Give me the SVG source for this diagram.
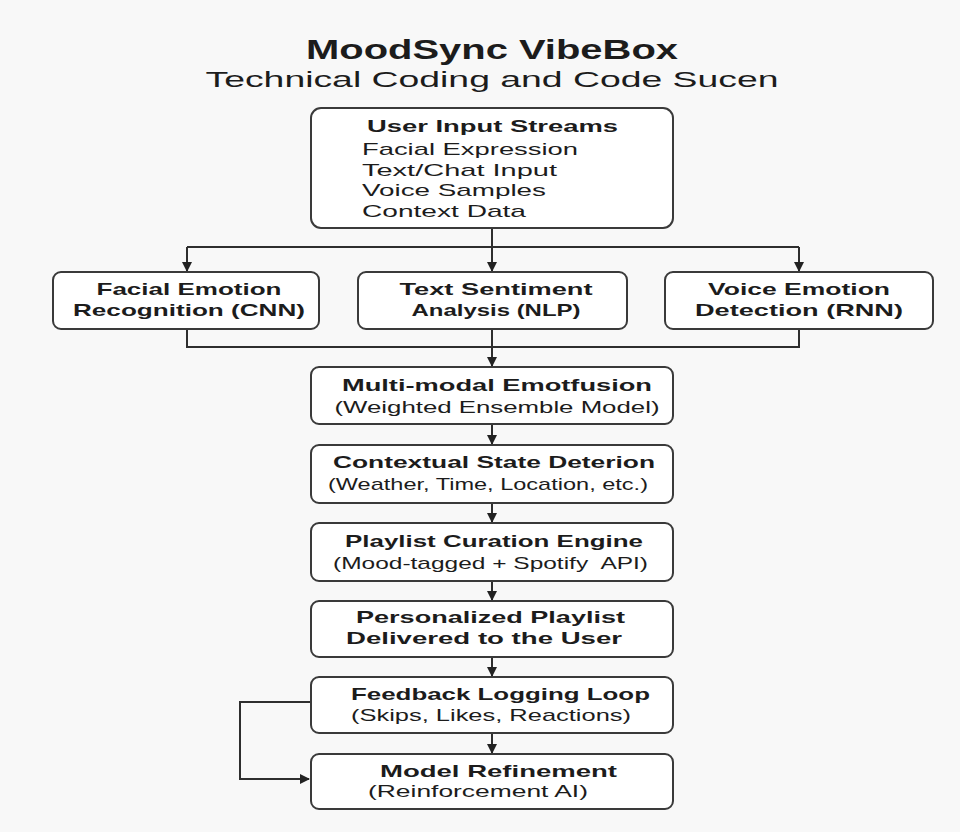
<svg xmlns="http://www.w3.org/2000/svg" width="960" height="832" viewBox="0 0 960 832">
  <defs>
    <marker id="arrow" viewBox="0 0 10 10" refX="9" refY="5" markerWidth="10" markerHeight="10" markerUnits="userSpaceOnUse" orient="auto">
      <path d="M0,0 L10,5 L0,10 Z" fill="#222"/>
    </marker>
    <style>
      .box { fill: #ffffff; stroke: #3a3a3a; stroke-width: 2; }
      .wire { fill: none; stroke: #2e2e2e; stroke-width: 2; }
      .t { font-family: "Liberation Sans", Arial, sans-serif; fill: #1c1c1c; }
      .h { font-weight: bold; font-size: 17px; }
      .s { font-size: 17px; }
      .title { font-weight: bold; font-size: 27px; }
      .sub { font-size: 22px; }
    </style>
  </defs>

  <rect width="960" height="832" fill="#f8f8f8"/>

  <!-- heading -->
  <g id="heading">
    <text class="t title" x="492" y="59" text-anchor="middle" textLength="372" lengthAdjust="spacingAndGlyphs">MoodSync VibeBox</text>
    <text class="t sub" x="492" y="87" text-anchor="middle" textLength="573" lengthAdjust="spacingAndGlyphs">Technical Coding and Code Sucen</text>
  </g>

  <!-- connectors -->
  <g id="connectors">
    <!-- fan-out from the input streams -->
    <path class="wire" d="M492,228 V271" marker-end="url(#arrow)"/>
    <path class="wire" d="M187,247 H799"/>
    <path class="wire" d="M187,247 V271" marker-end="url(#arrow)"/>
    <path class="wire" d="M799,247 V271" marker-end="url(#arrow)"/>
    <!-- fan-in to the fusion stage -->
    <path class="wire" d="M187,329 V347 H799 V329"/>
    <path class="wire" d="M492,329 V366" marker-end="url(#arrow)"/>
    <!-- main pipeline -->
    <path class="wire" d="M492,424 V444" marker-end="url(#arrow)"/>
    <path class="wire" d="M492,503 V522" marker-end="url(#arrow)"/>
    <path class="wire" d="M492,581 V600" marker-end="url(#arrow)"/>
    <path class="wire" d="M492,657 V676" marker-end="url(#arrow)"/>
    <path class="wire" d="M492,733 V753" marker-end="url(#arrow)"/>
    <!-- feedback loop -->
    <path class="wire" d="M311,702 H240 V779 H309" marker-end="url(#arrow)"/>
  </g>

  <g id="input-streams">
    <rect class="box" x="311" y="108" width="362" height="120" rx="10"/>
    <text class="t h" x="492.5" y="132" text-anchor="middle" textLength="251" lengthAdjust="spacingAndGlyphs">User Input Streams</text>
    <text class="t s" x="362" y="155" textLength="216" lengthAdjust="spacingAndGlyphs">Facial Expression</text>
    <text class="t s" x="362" y="176" textLength="195" lengthAdjust="spacingAndGlyphs">Text/Chat Input</text>
    <text class="t s" x="362" y="196" textLength="184" lengthAdjust="spacingAndGlyphs">Voice Samples</text>
    <text class="t s" x="362" y="217" textLength="164" lengthAdjust="spacingAndGlyphs">Context Data</text>
  </g>

  <g id="facial-emotion">
    <rect class="box" x="53" y="272" width="266" height="57" rx="8"/>
    <text class="t h" x="189" y="295" text-anchor="middle" textLength="185" lengthAdjust="spacingAndGlyphs">Facial Emotion</text>
    <text class="t h" x="189" y="316" text-anchor="middle" textLength="232" lengthAdjust="spacingAndGlyphs">Recognition (CNN)</text>
  </g>

  <g id="text-sentiment">
    <rect class="box" x="358" y="272" width="269" height="57" rx="8"/>
    <text class="t h" x="496" y="295" text-anchor="middle" textLength="193" lengthAdjust="spacingAndGlyphs">Text Sentiment</text>
    <text class="t h" x="496" y="316" text-anchor="middle" textLength="169" lengthAdjust="spacingAndGlyphs">Analysis (NLP)</text>
  </g>

  <g id="voice-emotion">
    <rect class="box" x="665" y="272" width="268" height="57" rx="8"/>
    <text class="t h" x="799" y="295" text-anchor="middle" textLength="182" lengthAdjust="spacingAndGlyphs">Voice Emotion</text>
    <text class="t h" x="799" y="316" text-anchor="middle" textLength="208" lengthAdjust="spacingAndGlyphs">Detection (RNN)</text>
  </g>

  <g id="emotion-fusion">
    <rect class="box" x="311" y="367" width="362" height="57" rx="8"/>
    <text class="t h" x="497" y="391" text-anchor="middle" textLength="310" lengthAdjust="spacingAndGlyphs">Multi-modal Emotfusion</text>
    <text class="t s" x="497" y="413" text-anchor="middle" textLength="325" lengthAdjust="spacingAndGlyphs">(Weighted Ensemble Model)</text>
  </g>

  <g id="contextual-state">
    <rect class="box" x="311" y="445" width="362" height="58" rx="8"/>
    <text class="t h" x="494" y="468" text-anchor="middle" textLength="322" lengthAdjust="spacingAndGlyphs">Contextual State Deterion</text>
    <text class="t s" x="488" y="490" text-anchor="middle" textLength="320" lengthAdjust="spacingAndGlyphs">(Weather, Time, Location, etc.)</text>
  </g>

  <g id="playlist-curation">
    <rect class="box" x="311" y="523" width="362" height="58" rx="8"/>
    <text class="t h" x="494" y="547" text-anchor="middle" textLength="298" lengthAdjust="spacingAndGlyphs">Playlist Curation Engine</text>
    <text class="t s" x="490.5" y="569" text-anchor="middle" textLength="315" lengthAdjust="spacingAndGlyphs" xml:space="preserve">(Mood-tagged + Spotify  API)</text>
  </g>

  <g id="personalized-playlist">
    <rect class="box" x="311" y="601" width="362" height="56" rx="8"/>
    <text class="t h" x="490.5" y="623" text-anchor="middle" textLength="269" lengthAdjust="spacingAndGlyphs">Personalized Playlist</text>
    <text class="t h" x="484" y="644" text-anchor="middle" textLength="276" lengthAdjust="spacingAndGlyphs">Delivered to the User</text>
  </g>

  <g id="feedback-logging">
    <rect class="box" x="311" y="677" width="362" height="56" rx="8"/>
    <text class="t h" x="500.5" y="700" text-anchor="middle" textLength="299" lengthAdjust="spacingAndGlyphs">Feedback Logging Loop</text>
    <text class="t s" x="491" y="721" text-anchor="middle" textLength="280" lengthAdjust="spacingAndGlyphs">(Skips, Likes, Reactions)</text>
  </g>

  <g id="model-refinement">
    <rect class="box" x="311" y="754" width="362" height="55" rx="8"/>
    <text class="t h" x="498.5" y="777" text-anchor="middle" textLength="237" lengthAdjust="spacingAndGlyphs">Model Refinement</text>
    <text class="t s" x="478" y="797" text-anchor="middle" textLength="220" lengthAdjust="spacingAndGlyphs">(Reinforcement AI)</text>
  </g>
</svg>
